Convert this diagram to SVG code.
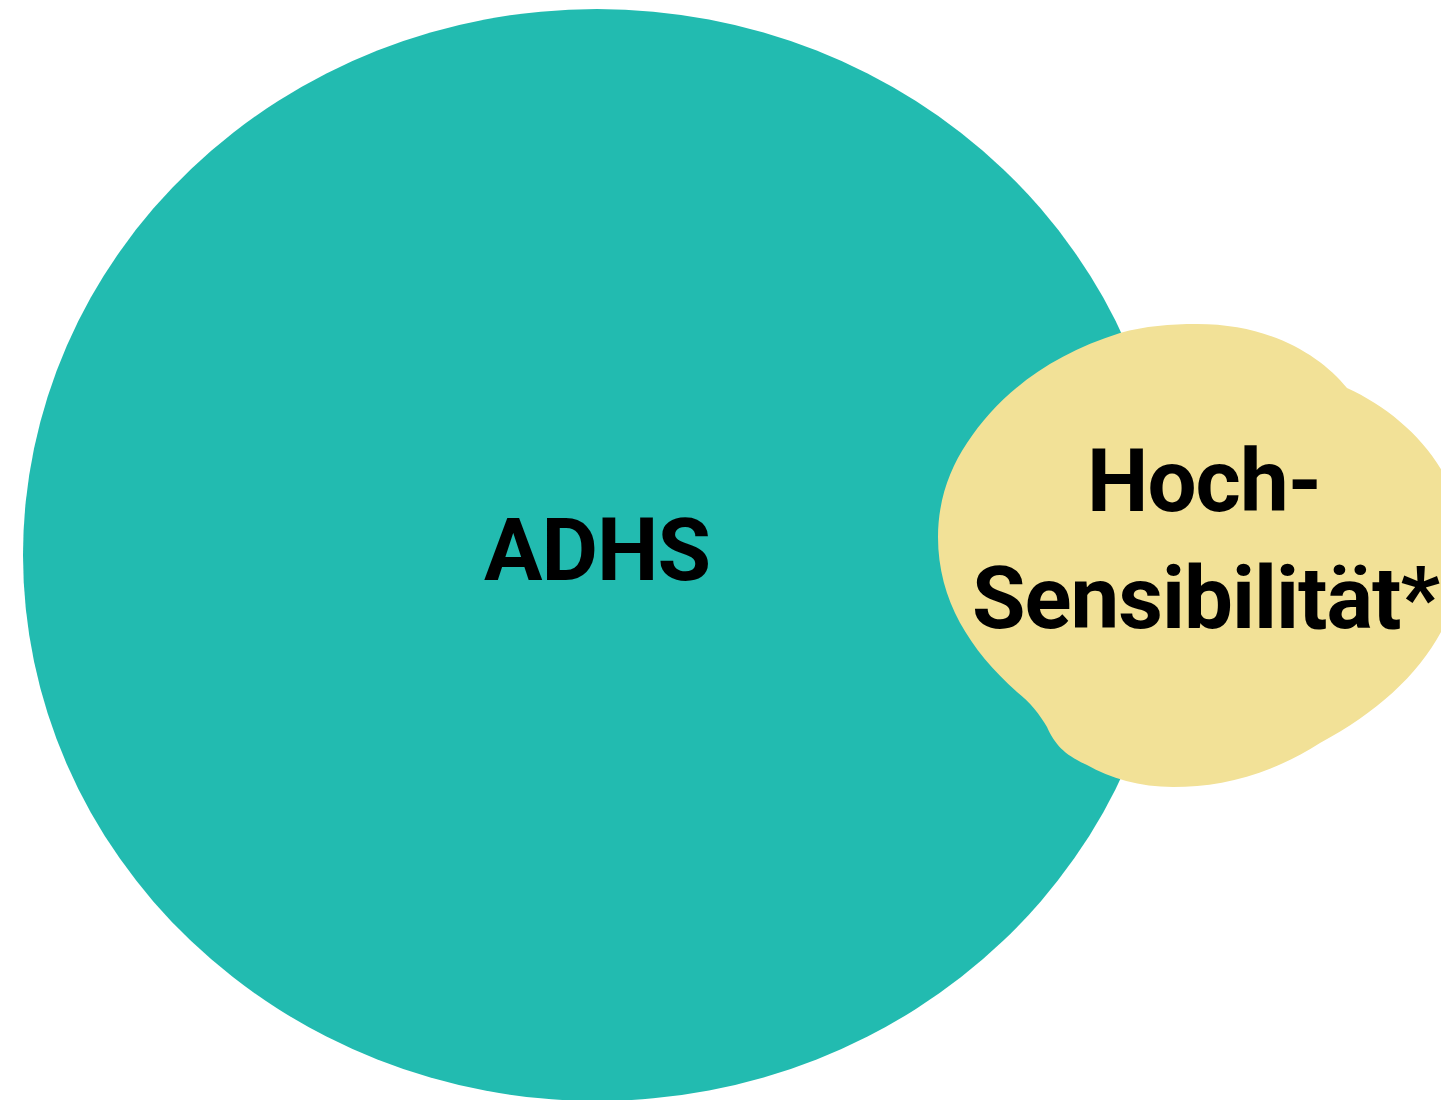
<svg xmlns="http://www.w3.org/2000/svg" width="1441" height="1100" viewBox="0 0 1441 1100">
<style>
.lbl{font-family:Roboto,"Liberation Sans",sans-serif;font-weight:700;font-size:87px;letter-spacing:-1px;fill:#000;text-anchor:middle}
</style>
<rect width="1441" height="1100" fill="#fff"/>
<g id="adhs">
<ellipse cx="597" cy="555" rx="574" ry="546" fill="#22BBB0"/>
<text class="lbl" x="597" y="580">ADHS</text>
</g>
<g id="hochsensibilitaet">
<path d="M 1197 324 C 1270 324, 1320 355, 1347 388 C 1400 412, 1450 460, 1460 520 C 1475 610, 1420 690, 1320 743 C 1270 775, 1220 787, 1173 787 C 1140 787, 1110 778, 1087 765 C 1065 755, 1055 745, 1047 727 C 1040 715, 1030 702, 1017 692 C 970 650, 938 600, 938 537 C 938 500, 950 468, 967 443 C 1000 393, 1050 355, 1120 333 C 1145 326, 1170 324, 1197 324 Z" fill="#F2E197"/>
<text class="lbl" x="1204" y="511">Hoch-</text>
<text class="lbl" x="972" y="628" style="text-anchor:start">Sensibilität*</text>
</g>
<g id="connectors"/>
</svg>
